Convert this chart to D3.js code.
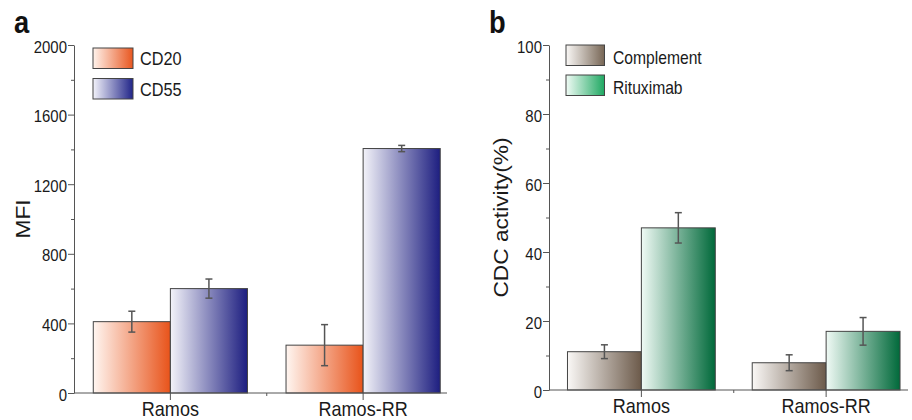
<!DOCTYPE html>
<html>
<head>
<meta charset="utf-8">
<script src="https://cdn.jsdelivr.net/npm/d3@7"></script>
<style>
  body { margin: 0; background: #fff; }
  svg { display: block; font-family: "Liberation Sans", Arial, sans-serif; }
  .axis path, .axis line { stroke: #555; }
  .axis text { fill: #1a1a1a; }
</style>
</head>
<body>
<div id="chart"></div>
<script>
// data
var categories = ["Ramos", "Ramos-RR"];

var cd20 = [410, 275];
var cd20Err = [60, 118];
var cd55 = [600, 1405];
var cd55Err = [55, 18];

var complement = [11.1, 7.9];
var complementErr = [2.0, 2.3];
var rituximab = [47, 17];
var rituximabErr = [4.4, 4.0];

var mfiTicks = [0, 400, 800, 1200, 1600, 2000];
var mfiMinor = [200, 600, 1000, 1400, 1800];
var cdcTicks = [0, 20, 40, 60, 80, 100];
var cdcMinor = [10, 30, 50, 70, 90];

var squeeze = 0.88;

var svg = d3.select("#chart").append("svg")
    .attr("width", 912)
    .attr("height", 420);

var defs = svg.append("defs");
function gradient(id, from, to) {
    var g = defs.append("linearGradient").attr("id", id)
        .attr("x1", "0%").attr("x2", "100%").attr("y1", "0%").attr("y2", "0%");
    g.append("stop").attr("offset", "0%").attr("stop-color", from);
    g.append("stop").attr("offset", "100%").attr("stop-color", to);
}
gradient("gCD20", "#fff6f1", "#e8531a");
gradient("gCD55", "#f3f3f9", "#1d1e80");
gradient("gComp", "#faf8f6", "#6c5a4a");
gradient("gRitu", "#f0faf5", "#00693a");
gradient("lCD20", "#fff3ec", "#e8561f");
gradient("lCD55", "#f3f3fa", "#202488");
gradient("lComp", "#faf8f6", "#776655");
gradient("lRitu", "#f0fbf5", "#1fa862");

function drawPanel(p) {
    var g = svg.append("g");

    var x = d3.scaleBand().domain(categories).range(p.xRange);
    var y = d3.scaleLinear().domain(p.yDomain).range(p.yRange);
    var bw = x.bandwidth() * 0.4;
    var x0 = p.xRange[0];

    // bars + error bars
    p.series.forEach(function(s, si) {
        categories.forEach(function(c, i) {
            var cx = x(c) + x.bandwidth() / 2;
            var left = si === 0 ? cx - bw : cx;
            g.append("rect")
                .attr("x", left)
                .attr("y", y(s.values[i]))
                .attr("width", bw)
                .attr("height", y(0) - y(s.values[i]))
                .attr("fill", "url(#" + s.fill + ")")
                .attr("stroke", "#444")
                .attr("stroke-width", 1);

            var ex = left + bw / 2,
                hi = y(s.values[i] + s.err[i]),
                lo = y(s.values[i] - s.err[i]);
            var eb = g.append("g").attr("stroke", "#555").attr("stroke-width", 1.5);
            eb.append("line").attr("x1", ex).attr("x2", ex).attr("y1", hi).attr("y2", lo);
            eb.append("line").attr("x1", ex - 3.5).attr("x2", ex + 3.5).attr("y1", hi).attr("y2", hi);
            eb.append("line").attr("x1", ex - 3.5).attr("x2", ex + 3.5).attr("y1", lo).attr("y2", lo);
        });
    });

    // y axis
    var ya = g.append("g").attr("class", "axis")
        .attr("transform", "translate(" + x0 + ",0)")
        .call(d3.axisLeft(y).tickValues(p.ticks).tickFormat(d3.format("d"))
            .tickSize(6).tickSizeOuter(0).tickPadding(2));
    ya.selectAll("text")
        .attr("font-size", 17)
        .attr("dy", "0.42em")
        .attr("transform", "scale(" + squeeze + ",1)");
    g.append("g").attr("class", "axis")
        .attr("transform", "translate(" + x0 + ",0)")
        .call(d3.axisLeft(y).tickValues(p.minor).tickSize(3).tickFormat(""))
        .select(".domain").remove();

    // x axis
    var xa = g.append("g").attr("class", "axis")
        .attr("transform", "translate(0," + y(0) + ")")
        .call(d3.axisBottom(x).tickSize(7).tickPadding(1.5));
    xa.select(".domain").remove();
    xa.append("line")
        .attr("x1", x0).attr("x2", p.xRange[1] - p.axisTrim)
        .attr("stroke", "#555");
    var mid = (x(categories[0]) + x(categories[1])) / 2 + x.bandwidth() / 2;
    xa.append("line")
        .attr("x1", mid).attr("x2", mid).attr("y1", 0).attr("y2", 3)
        .attr("stroke", "#555");
    xa.selectAll("text")
        .attr("font-size", 20.5)
        .attr("transform", "scale(" + squeeze + ",1)");

    // y title
    g.append("text")
        .attr("transform", "translate(" + p.titleX + "," + (p.yRange[0] + p.yRange[1]) / 2 +
              ") rotate(-90) scale(" + (1 / squeeze) + ",1)")
        .attr("text-anchor", "middle")
        .attr("font-size", 20)
        .attr("fill", "#1a1a1a")
        .text(p.title);

    // panel letter
    g.append("text")
        .attr("transform", "translate(" + p.letterX + ",33) scale(" + squeeze + ",1)")
        .attr("font-size", 31)
        .attr("font-weight", "bold")
        .attr("fill", "#111")
        .text(p.letter);

    // legend
    p.series.forEach(function(s, si) {
        var ly = p.legendY[si];
        g.append("rect")
            .attr("x", p.legendX).attr("y", ly)
            .attr("width", p.legendW).attr("height", 20.5)
            .attr("fill", "url(#" + s.legendFill + ")")
            .attr("stroke", "#444").attr("stroke-width", 1);
        g.append("text")
            .attr("transform", "translate(" + (p.legendX + p.legendW + p.legendGap) + "," +
                  (ly + p.legendBase) + ") scale(" + squeeze + ",1)")
            .attr("font-size", p.legendFont)
            .attr("fill", "#1a1a1a")
            .text(s.name);
    });
}

drawPanel({
    xRange: [74, 459.5], axisTrim: 12.5,
    yDomain: [0, 2000], yRange: [393, 45],
    ticks: mfiTicks, minor: mfiMinor,
    title: "MFI", titleX: 30,
    letter: "a", letterX: 14,
    legendX: 93, legendW: 40, legendGap: 7, legendY: [48, 78.5], legendBase: 17, legendFont: 18.5,
    series: [
        {name: "CD20", values: cd20, err: cd20Err, fill: "gCD20", legendFill: "lCD20"},
        {name: "CD55", values: cd55, err: cd55Err, fill: "gCD55", legendFill: "lCD55"}
    ]
});

drawPanel({
    xRange: [549, 918.5], axisTrim: 10.5,
    yDomain: [0, 100], yRange: [390, 45],
    ticks: cdcTicks, minor: cdcMinor,
    title: "CDC activity(%)", titleX: 508,
    letter: "b", letterX: 489,
    legendX: 566, legendW: 38.5, legendGap: 8.5, legendY: [45, 75], legendBase: 18.5, legendFont: 17.8,
    series: [
        {name: "Complement", values: complement, err: complementErr, fill: "gComp", legendFill: "lComp"},
        {name: "Rituximab", values: rituximab, err: rituximabErr, fill: "gRitu", legendFill: "lRitu"}
    ]
});
</script>
</body>
</html>
